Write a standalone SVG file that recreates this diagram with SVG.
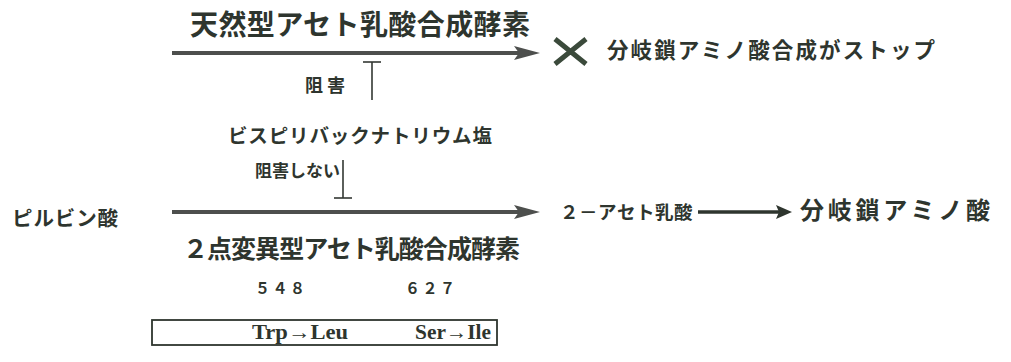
<svg xmlns="http://www.w3.org/2000/svg" width="1011" height="362" viewBox="0 0 1011 362">
<defs>
<style>
.t{font-family:"Noto Sans CJK JP","Noto Sans",sans-serif;fill:#2e352e;font-weight:bold}
.m{font-family:"Noto Sans CJK JP","Noto Sans",sans-serif;fill:#2e352e;font-weight:bold}
.s{font-family:"Liberation Serif",serif;fill:#2e352e;font-weight:bold}
.main{stroke:#4d4f4d;stroke-width:4;fill:none}
.thin{stroke:#333833;stroke-width:1.6;fill:none}
.head{fill:#4d4f4d}
</style>
</defs>
<rect width="1011" height="362" fill="#ffffff"/>
<g id="connectors">
<line class="main" x1="172" y1="53" x2="522" y2="53"/>
<polygon class="head" points="540,53 514,46 519,53 514,60"/>
<line class="main" x1="172" y1="212" x2="522" y2="212"/>
<polygon class="head" points="540,212 514,205 519,212 514,219"/>
<line class="main" x1="698" y1="212" x2="780" y2="212" style="stroke-width:3.5;stroke:#2e352e"/>
<polygon points="792,212 776,205 779,212 776,219" fill="#2e352e"/>
<g id="inhibit">
<line class="thin" x1="372" y1="62" x2="372" y2="100"/>
<line class="thin" x1="363" y1="62" x2="381" y2="62"/>
</g>
<g id="no-inhibit">
<line class="thin" x1="343" y1="160" x2="343" y2="198"/>
<line class="thin" x1="334" y1="198" x2="352" y2="198"/>
</g>
</g>
<g id="wild-enzyme">
<text class="t" x="190" y="35" font-size="28" textLength="340" lengthAdjust="spacing">天然型アセト乳酸合成酵素</text>
</g>
<g id="stop">
<path d="M555,39 L586,64 M586,39 L555,64" stroke="#3b4a3b" stroke-width="5" fill="none"/>
<text class="t" x="607" y="58" font-size="21.5" textLength="328" lengthAdjust="spacing">分岐鎖アミノ酸合成がストップ</text>
</g>
<g id="label-inhibit">
<text class="m" x="305" y="92" font-size="18" textLength="40" lengthAdjust="spacing">阻害</text>
</g>
<g id="bispyribac">
<text class="m" x="228" y="142.5" font-size="19.5" textLength="264" lengthAdjust="spacing">ビスピリバックナトリウム塩</text>
</g>
<g id="label-no-inhibit">
<text class="m" x="255" y="177" font-size="17" textLength="85" lengthAdjust="spacing">阻害しない</text>
</g>
<g id="pyruvate">
<text class="t" x="12" y="226" font-size="20.5" textLength="106" lengthAdjust="spacing">ピルビン酸</text>
</g>
<g id="acetolactate">
<text class="t" x="560 579 598 617 636 655 674" y="219" font-size="18.5">２－アセト乳酸</text>
</g>
<g id="bcaa">
<text class="t" x="800" y="219" font-size="24" textLength="190" lengthAdjust="spacing">分岐鎖アミノ酸</text>
</g>
<g id="mutant-enzyme">
<text class="t" x="183" y="258" font-size="25" textLength="337" lengthAdjust="spacing">２点変異型アセト乳酸合成酵素</text>
</g>
<g id="mutations">
<text class="m" x="255" y="294" font-size="15" textLength="50" lengthAdjust="spacing">５４８</text>
<text class="m" x="405" y="294" font-size="15" textLength="50" lengthAdjust="spacing">６２７</text>
<rect x="152" y="320" width="345" height="25" fill="none" stroke="#2e352e" stroke-width="1.8"/>
<text class="s" x="252" y="339" font-size="20" textLength="96" lengthAdjust="spacingAndGlyphs">Trp→Leu</text>
<text class="s" x="415" y="339" font-size="20" textLength="76" lengthAdjust="spacingAndGlyphs">Ser→Ile</text>
</g>
</svg>
